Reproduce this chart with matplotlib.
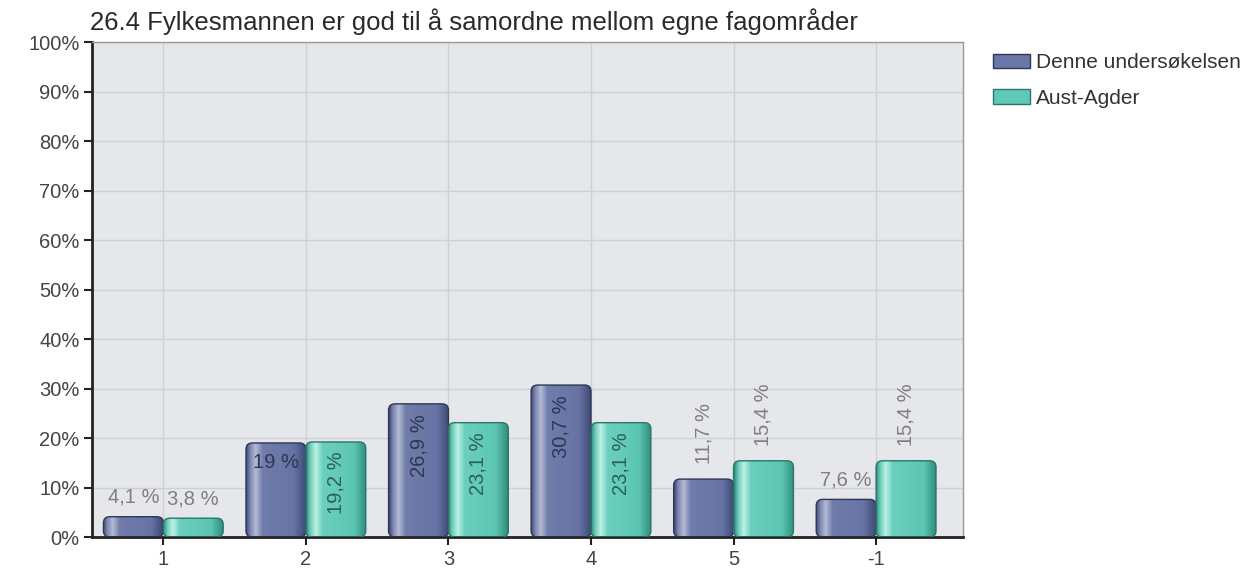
import numpy as np
import matplotlib.pyplot as plt
from matplotlib.patches import FancyBboxPatch, Patch
from matplotlib.colors import LinearSegmentedColormap

plt.rcParams['font.family'] = ['Liberation Sans', 'DejaVu Sans']

categories = ['1', '2', '3', '4', '5', '-1']
denne = [4.1, 19.0, 26.9, 30.7, 11.7, 7.6]
aust_agder = [3.8, 19.2, 23.1, 23.1, 15.4, 15.4]
labels_denne = ['4,1 %', '19 %', '26,9 %', '30,7 %', '11,7 %', '7,6 %']
labels_aust = ['3,8 %', '19,2 %', '23,1 %', '23,1 %', '15,4 %', '15,4 %']

# label placement per bar: (inside?, rotated?)
place_denne = [(False, False), (True, False), (True, True), (True, True), (False, True), (False, False)]
place_aust = [(False, False), (True, True), (True, True), (True, True), (False, True), (False, True)]

title = '26.4 Fylkesmannen er god til å samordne mellom egne fagområder'

blue_cmap = LinearSegmentedColormap.from_list('blue', [
    (0.0, '#3e4873'), (0.07, '#7d87b0'), (0.16, '#b4bbd4'), (0.28, '#707dab'),
    (0.8, '#6673a4'), (1.0, '#3f4a75')])
teal_cmap = LinearSegmentedColormap.from_list('teal', [
    (0.0, '#2f8a7b'), (0.07, '#6cccb9'), (0.16, '#bdf1e5'), (0.28, '#6ad0bd'),
    (0.8, '#5cc6b3'), (1.0, '#318d7d')])

FS = 14.5

fig = plt.figure(figsize=(12.54, 5.73), dpi=100)
ax = fig.add_axes([0.0734, 0.0628, 0.6946, 0.8639])
ax.set_facecolor('#e5e7ea')

x = np.arange(len(categories))
w = 0.42
ax.set_xlim(-0.5, 5.61)
ax.set_ylim(0, 100)

grad = np.linspace(0, 1, 256).reshape(1, -1)


def draw_bar(x0, h, cmap, edge):
    patch = FancyBboxPatch((x0, 0), w, h, boxstyle='round,pad=0,rounding_size=0.045',
                           mutation_aspect=28, facecolor='none', edgecolor=edge,
                           linewidth=1.0, zorder=3)
    ax.add_patch(patch)
    im = ax.imshow(grad, cmap=cmap, extent=(x0, x0 + w, 0, h), aspect='auto',
                   zorder=2, interpolation='bilinear')
    im.set_clip_path(patch)


def draw_label(xc, h, text, inside, rotated, inner_color):
    if inside:
        if rotated:
            ax.text(xc, h - 2, text, rotation=90, ha='center', va='top',
                    fontsize=FS, color=inner_color, zorder=4)
        else:
            ax.text(xc, h - 2, text, ha='center', va='top',
                    fontsize=FS, color=inner_color, zorder=4)
    else:
        if rotated:
            ax.text(xc, h + 3, text, rotation=90, ha='center', va='bottom',
                    fontsize=FS, color='#7f7f7f', zorder=4)
        else:
            ax.text(xc, h + 2, text, ha='center', va='bottom',
                    fontsize=FS, color='#7f7f7f', zorder=4)


for i in range(len(categories)):
    draw_bar(x[i] - w, denne[i], blue_cmap, '#2f3656')
    draw_bar(x[i], aust_agder[i], teal_cmap, '#2a7668')
    draw_label(x[i] - w / 2, denne[i], labels_denne[i], *place_denne[i], '#2f3552')
    draw_label(x[i] + w / 2, aust_agder[i], labels_aust[i], *place_aust[i], '#2c5f58')

ax.set_xticks(x)
ax.set_xticklabels(categories, fontsize=FS, color='#444444')
ax.set_yticks(np.arange(0, 101, 10))
ax.set_yticklabels([f'{v}%' for v in range(0, 101, 10)], fontsize=FS, color='#444444')
ax.grid(True, color='#cdd0d4', linewidth=1.0, zorder=0)
ax.set_axisbelow(True)
ax.tick_params(direction='out', length=6, width=1.5, color='#222222', pad=3)

for side in ['left', 'bottom']:
    ax.spines[side].set_linewidth(2)
    ax.spines[side].set_color('#222222')
for side in ['top', 'right']:
    ax.spines[side].set_linewidth(1)
    ax.spines[side].set_color('#9a9a9a')

fig.text(0.072, 0.963, title, fontsize=18.5, color='#2a2a2a', ha='left', va='center')

handles = [Patch(facecolor='#6a77a8', edgecolor='#2f3656', label='Denne undersøkelsen'),
           Patch(facecolor='#5fc9b6', edgecolor='#2a7668', label='Aust-Agder')]
fig.legend(handles=handles, loc='upper left', bbox_to_anchor=(0.777, 0.94),
           frameon=False, fontsize=15, handlelength=1.75, handleheight=0.7,
           handletextpad=0.3, labelspacing=0.8, labelcolor='#333333')

fig.savefig('out.png', dpi=100)
